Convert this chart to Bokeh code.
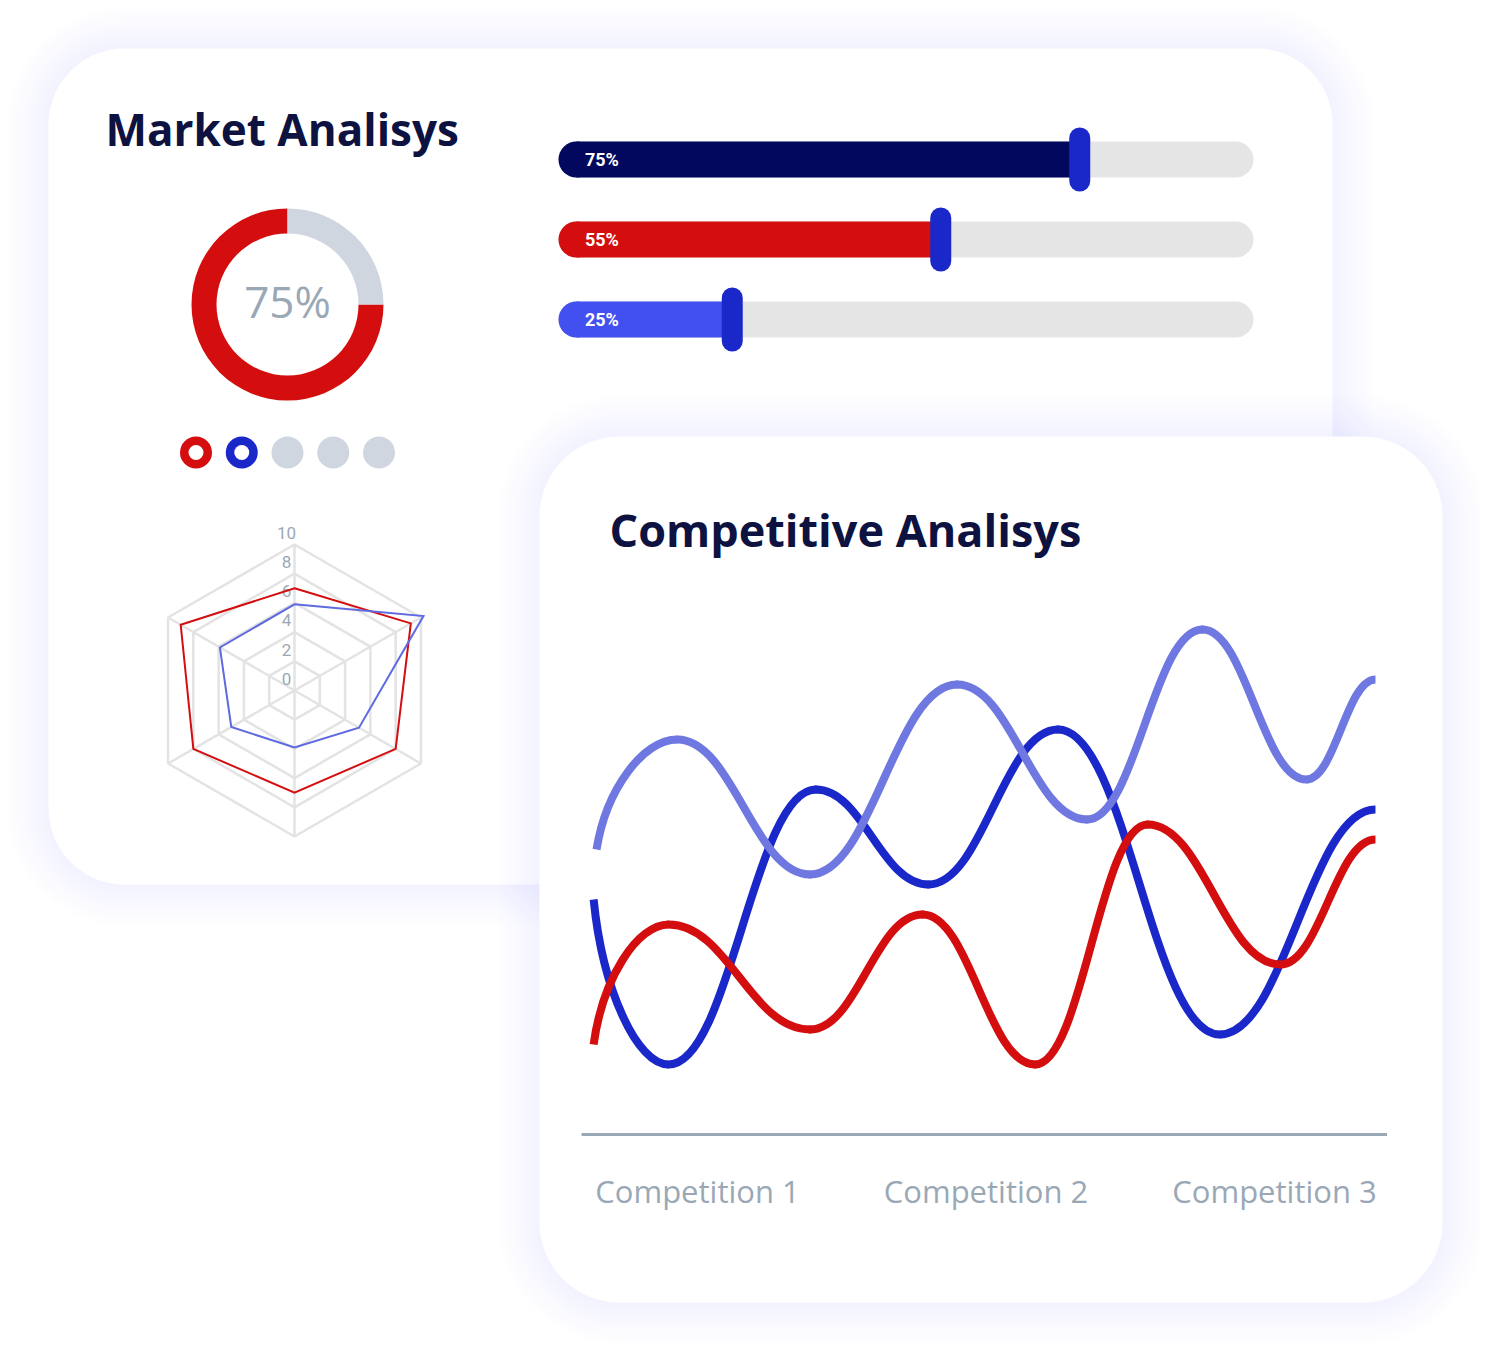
import math
from bokeh.plotting import figure
from bokeh.models import Range1d
from bokeh.core.properties import value
from bokeh.embed import file_html
from bokeh.resources import INLINE

# ---------------- data ----------------
bar_labels = ["75%", "55%", "25%"]
bar_values = [75, 55, 25]
bar_colors = ["#02085e", "#d40e0e", "#4350f0"]

donut_value = 75
donut_label = "75%"

dot_colors = ["#d40e0e", "#1a27c9", "#cfd6df", "#cfd6df", "#cfd6df"]
dot_ring = [True, True, False, False, False]

radar_ticks = [0, 2, 4, 6, 8, 10]
radar_red = [7.0, 9.2, 8.0, 7.0, 8.0, 9.0]
radar_blue = [5.9, 10.2, 5.1, 3.9, 5.0, 5.9]

competitions = ["Competition 1", "Competition 2", "Competition 3"]
comp_pos = [1, 2, 3]
purple_x = [0.65, 0.93, 1.39, 1.90, 2.35, 2.75, 3.11, 3.35]
purple_y = [57, 79, 52, 90, 63, 101, 71, 91]
blue_x = [0.64, 0.90, 1.41, 1.80, 2.25, 2.81, 3.35]
blue_y = [47, 14, 69, 50, 81, 20, 65]
red_x = [0.64, 0.90, 1.39, 1.78, 2.17, 2.56, 3.02, 3.35]
red_y = [18, 42, 21, 44, 14, 62, 34, 59]

# ---------------- styles ----------------
NAVY = "#0e1241"
RED = "#d40e0e"
BLUE = "#1a27c9"
LBLUE = "#6f78e0"
GREY_TXT = "#9aa8b5"
GREY_FILL = "#cfd6df"
TRACK = "#e5e5e5"
GRID = "#e3e3e3"

OX, OY = 0, 0
W, H = 1480, 1345
X0, X1 = OX, OX + W
YB, YT = OY + H, OY

p = figure(width=W, height=H, x_range=Range1d(X0, X1), y_range=Range1d(YB, YT),
           x_axis_type=None, y_axis_type=None, output_backend="svg",
           toolbar_location=None, min_border=0)
p.grid.visible = False
p.outline_line_color = None
p.background_fill_color = "white"
p.border_fill_color = "white"


def lin_range(d_a, p_a, d_b, p_b, p_start, p_end):
    s = (d_b - d_a) / (p_b - p_a)
    return Range1d(start=d_a + (p_start - p_a) * s, end=d_a + (p_end - p_a) * s)


p.extra_x_ranges = {
    "lc": lin_range(1, 697, 3, 1274, X0, X1),
    "rd": lin_range(0, 294, 10, 440, X0, X1),
    "dn": lin_range(0, 287, 1, 288, X0, X1),
    "br": lin_range(0, 558, 100, 1253, X0, X1),
}
p.extra_y_ranges = {
    "lc": lin_range(0, 1134, 100, 634, YB, YT),
    "rd": lin_range(0, 690, 10, 544, YB, YT),
    "dn": lin_range(0, 304, 1, 303, YB, YT),
    "br": lin_range(0, 159, 2, 319, YB, YT),
}


def rrect(x0, y0, x1, y1, r, n=18):
    xs, ys = [], []
    corners = [(x1 - r, y0 + r, -90, 0), (x1 - r, y1 - r, 0, 90),
               (x0 + r, y1 - r, 90, 180), (x0 + r, y0 + r, 180, 270)]
    for cx, cy, a0, a1 in corners:
        for k in range(n + 1):
            a = math.radians(a0 + (a1 - a0) * k / n)
            xs.append(cx + r * math.cos(a))
            ys.append(cy + r * math.sin(a))
    return xs, ys


def card(x0, y0, x1, y1, r):
    gx, gy = [], []
    N = 12
    for i in range(N):
        d = 42 * (1 - i / N)
        xs, ys = rrect(x0 - d, y0 - d, x1 + d, y1 + d, r + d)
        gx.append(xs)
        gy.append(ys)
    p.patches(gx, gy, fill_color="#8c96f0", fill_alpha=0.013, line_color=None)
    xs, ys = rrect(x0, y0, x1, y1, r)
    p.patch(xs, ys, fill_color="white", line_color=None)


# ---------------- card 1 ----------------
card(48, 48, 1332, 884, 76)

p.text(x=[105], y=[128], text=["Market Analisys"], text_font=value("Open Sans"),
       text_font_style="bold", text_font_size="44px", text_color=NAVY,
       text_baseline="middle", text_align="left")

# progress bars
rows = list(range(len(bar_values)))
ppu = (1253 - 558) / 100.0
cap = 18 / ppu
p.segment(x0=[cap] * 3, x1=[100 - cap] * 3, y0=rows, y1=rows, line_color=TRACK,
          line_width=36, line_cap="round", x_range_name="br", y_range_name="br")
p.segment(x0=[cap] * 3, x1=bar_values, y0=rows, y1=rows, line_color=bar_colors,
          line_width=36, line_cap="butt", x_range_name="br", y_range_name="br")
p.scatter(x=[cap] * 3, y=rows, size=36, marker="circle", fill_color=bar_colors,
          line_color=None, x_range_name="br", y_range_name="br")
hh = 21.5 / 80.0
p.segment(x0=bar_values, x1=bar_values, y0=[r - hh for r in rows], y1=[r + hh for r in rows],
          line_color=BLUE, line_width=21, line_cap="round", x_range_name="br", y_range_name="br")
p.text(x=[3.8] * 3, y=rows, text=bar_labels, text_font=value("Roboto"),
       text_font_size="18px", text_font_style="bold", text_color="white",
       text_baseline="middle", text_align="left", x_range_name="br", y_range_name="br")

# donut
frac = donut_value / 100.0
p.annular_wedge(x=[0], y=[0], inner_radius=71, outer_radius=96,
                start_angle=math.pi / 2, end_angle=math.pi / 2 + 2 * math.pi * frac,
                direction="anticlock", fill_color=RED, line_color=None,
                x_range_name="dn", y_range_name="dn")
p.annular_wedge(x=[0], y=[0], inner_radius=71, outer_radius=96,
                start_angle=math.pi / 2 + 2 * math.pi * frac, end_angle=math.pi / 2 + 2 * math.pi,
                direction="anticlock", fill_color=GREY_FILL, line_color=None,
                x_range_name="dn", y_range_name="dn")
p.text(x=[0], y=[4], text=[donut_label], text_font=value("Open Sans"),
       text_font_size="44px", text_color=GREY_TXT, text_baseline="middle",
       text_align="center", x_range_name="dn", y_range_name="dn")

# dots
dx = [287 + (i - 2) * 45.75 for i in range(len(dot_colors))]
p.circle(x=dx, y=[452] * 5, radius=16, fill_color=dot_colors, line_color=None)
hx = [x for x, r in zip(dx, dot_ring) if r]
p.circle(x=hx, y=[452] * len(hx), radius=7.5, fill_color="white", line_color=None)

# radar
angles = [math.pi / 2 - i * math.pi / 3 for i in range(6)]
ring_xs, ring_ys = [], []
for t in radar_ticks[1:]:
    ring_xs.append([t * math.cos(a) for a in angles])
    ring_ys.append([t * math.sin(a) for a in angles])
p.patches(ring_xs, ring_ys, fill_color=None, line_color=GRID, line_width=2.5,
          x_range_name="rd", y_range_name="rd")
tmax = radar_ticks[-1]
p.segment(x0=[0] * 6, y0=[0] * 6, x1=[tmax * math.cos(a) for a in angles],
          y1=[tmax * math.sin(a) for a in angles], line_color=GRID, line_width=2.5,
          x_range_name="rd", y_range_name="rd")
p.text(x=[-0.55] * len(radar_ticks), y=[t + 0.8 for t in radar_ticks],
       text=[str(t) for t in radar_ticks], text_font=value("Roboto"),
       text_font_size="17px", text_color=GREY_TXT, text_baseline="middle",
       text_align="center", x_range_name="rd", y_range_name="rd")
for vals, col in [(radar_red, RED), (radar_blue, "#5f6ae0")]:
    p.patch([v * math.cos(a) for v, a in zip(vals, angles)],
            [v * math.sin(a) for v, a in zip(vals, angles)],
            fill_color=None, line_color=col, line_width=2, line_join="miter",
            x_range_name="rd", y_range_name="rd")

# ---------------- card 2 ----------------
card(539, 436, 1442, 1302, 80)

p.text(x=[609], y=[529], text=["Competitive Analisys"], text_font=value("Open Sans"),
       text_font_style="bold", text_font_size="45px", text_color=NAVY,
       text_baseline="middle", text_align="left")


def bez(xs, ys, idx, k=0.42):
    out = {"x0": [], "y0": [], "x1": [], "y1": [], "cx0": [], "cy0": [], "cx1": [], "cy1": []}
    for i in idx:
        xa, ya, xb, yb = xs[i], ys[i], xs[i + 1], ys[i + 1]
        ddx, ddy = xb - xa, yb - ya
        if i == 0:
            c0x, c0y = xa + 0.12 * ddx, ya + 0.55 * ddy
        else:
            c0x, c0y = xa + k * ddx, ya
        out["x0"].append(xa); out["y0"].append(ya)
        out["x1"].append(xb); out["y1"].append(yb)
        out["cx0"].append(c0x); out["cy0"].append(c0y)
        out["cx1"].append(xb - k * ddx); out["cy1"].append(yb)
    return out


for xs, ys, col in [(blue_x, blue_y, BLUE), (purple_x, purple_y, LBLUE), (red_x, red_y, RED)]:
    n = len(xs) - 1
    p.bezier(**bez(xs, ys, [0, n - 1]), line_color=col, line_width=8, line_cap="butt",
             x_range_name="lc", y_range_name="lc")
    p.bezier(**bez(xs, ys, list(range(1, n - 1))), line_color=col, line_width=8,
             line_cap="round", x_range_name="lc", y_range_name="lc")

p.segment(x0=[0.598], x1=[3.39], y0=[0], y1=[0], line_color=GREY_TXT, line_width=3,
          x_range_name="lc", y_range_name="lc")
p.text(x=comp_pos, y=[-11.3] * 3, text=competitions, text_font=value("Open Sans"),
       text_font_size="31px", text_color=GREY_TXT, text_baseline="middle",
       text_align="center", x_range_name="lc", y_range_name="lc")

open("out.html", "w").write(file_html(p, INLINE))
